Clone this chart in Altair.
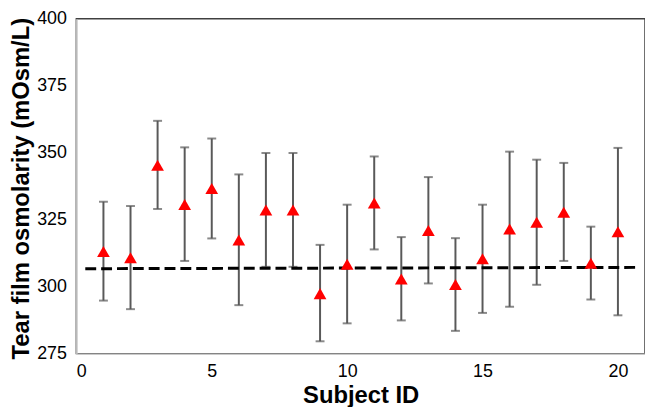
import altair as alt
import pandas as pd

subject_ids = list(range(1, 21))
mean_osm = [313.1, 310.8, 345.3, 330.7, 336.6, 317.4, 328.6, 328.6, 297.4, 308.4,
            331.2, 302.9, 321.0, 300.8, 310.4, 321.5, 324.0, 327.8, 308.7, 320.5]
upper_osm = [331.7, 330.1, 361.9, 352.0, 355.3, 341.9, 349.9, 349.9, 315.6, 330.6,
             348.6, 318.5, 340.9, 318.1, 330.6, 350.4, 347.4, 346.2, 322.4, 351.8]
lower_osm = [294.8, 291.6, 329.0, 309.6, 318.0, 293.1, 307.4, 307.4, 279.6, 286.3,
             313.9, 287.4, 301.2, 283.5, 290.2, 292.5, 300.7, 309.6, 295.2, 289.3]
ref_x = [0.33, 20.7]
ref_y = [306.7, 307.2]
x_ticks = [0, 5, 10, 15, 20]
y_ticks = [275, 300, 325, 350, 375, 400]

df = pd.DataFrame({"id": subject_ids, "mean": mean_osm, "hi": upper_osm, "lo": lower_osm})
ref = pd.DataFrame({"x": ref_x, "y": ref_y})

FONT = "Liberation Sans"
PLOT_H = 338
xscale = alt.Scale(domain=[0, 21], nice=False, zero=False)
yscale = alt.Scale(domain=[275, 400], nice=False, zero=False)

common = dict(grid=False, ticks=False, tickSize=0, domainColor="#c8c8c8", domainWidth=1.5,
              labelFont=FONT, labelFontSize=18, labelColor="black",
              titleFont=FONT, titleFontSize=24, titleFontWeight="bold", titleColor="black")

xaxis = alt.Axis(values=x_ticks, title="Subject ID", labelPadding=9,
                 titleY=49, titleBaseline="alphabetic", **common)
yaxis = alt.Axis(values=y_ticks, title="Tear film osmolarity (mOsm/L)", labelPadding=10,
                 titleX=-48, titleY=PLOT_H / 2 + 2, titleBaseline="alphabetic", titleAngle=270,
                 **common)

base = alt.Chart(df)

bars = base.mark_rule(color="#595959", strokeWidth=2).encode(
    x=alt.X("id:Q", scale=xscale, axis=xaxis),
    y=alt.Y("lo:Q", scale=yscale, axis=yaxis),
    y2="hi:Q",
)
cap_hi = base.mark_tick(orient="horizontal", size=9, thickness=2, color="#595959").encode(
    x=alt.X("id:Q", scale=xscale), y=alt.Y("hi:Q", scale=yscale))
cap_lo = base.mark_tick(orient="horizontal", size=9, thickness=2, color="#595959").encode(
    x=alt.X("id:Q", scale=xscale), y=alt.Y("lo:Q", scale=yscale))

dash = alt.Chart(ref).mark_line(color="black", strokeWidth=3, strokeDash=[11, 5]).encode(
    x=alt.X("x:Q", scale=xscale), y=alt.Y("y:Q", scale=yscale))

pts = base.mark_point(shape="triangle-up", filled=True, color="#ff0000", size=165, opacity=1).encode(
    x=alt.X("id:Q", scale=xscale), y=alt.Y("mean:Q", scale=yscale))

chart = alt.layer(bars, cap_hi, cap_lo, dash, pts).properties(
    width=574, height=PLOT_H,
    autosize=alt.AutoSizeParams(type="none"),
    padding={"left": 69, "top": 9, "right": 0, "bottom": 52},
).configure(
    background="white"
).configure_view(
    stroke="#404040", strokeWidth=1.5
)

chart.save("out.html", embed_options={"renderer": "svg", "actions": False})
